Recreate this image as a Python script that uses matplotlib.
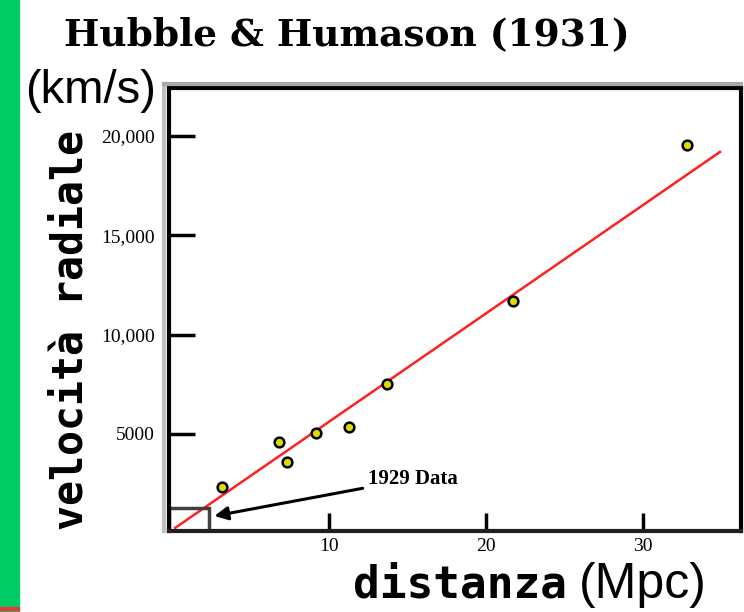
import matplotlib.pyplot as plt
from matplotlib.patches import Rectangle
from matplotlib.lines import Line2D

# galassie (distanza in Mpc, velocità in km/s)
dist = [3.2, 6.8, 7.3, 9.2, 11.3, 13.7, 21.7, 32.8]
vel = [2330, 4600, 3590, 5050, 5350, 7520, 11700, 19550]

# retta di Hubble (estremi)
fit_x = [0.2, 34.9]
fit_y = [270, 19200]

# riquadro dati 1929
box_x = 2.35
box_y = 1270

xticks = [10, 20, 30]
yticks = [5000, 10000, 15000, 20000]
ytick_labels = ['5000', '10,000', '15,000', '20,000']

W, H = 744, 612
fig = plt.figure(figsize=(W / 100, H / 100), dpi=100)

# barra verde a sinistra
fig.patches.append(Rectangle((0, 0), 19 / W, 1, transform=fig.transFigure,
                             color='#00cc66', zorder=0))
fig.patches.append(Rectangle((0, 2 / H), 19 / W, 3 / H, transform=fig.transFigure,
                             color='#e83838', zorder=1))

ax = fig.add_axes([169 / W, 1 - 531 / H, (741 - 169) / W, (531 - 88) / H])
ax.set_xlim(-0.19, 36.24)
ax.set_ylim(115, 22420)

ax.plot(fit_x, fit_y, color='#ff2020', lw=1.8, zorder=2)
ax.plot(dist, vel, 'o', ms=7, mfc='#dcdc00', mec='black', mew=1.8, zorder=3)

ax.add_patch(Rectangle((-0.19, 115), box_x + 0.19, box_y - 115, fill=False,
                       ec='#404040', lw=2.5, zorder=2))
ax.annotate('1929 Data', xy=(2.7, 870), xytext=(12.5, 2740),
            ha='left', va='center', family='Liberation Serif', fontsize=15,
            fontweight='bold',
            arrowprops=dict(arrowstyle='-|>', color='black', lw=2.2,
                            mutation_scale=20, shrinkA=2, shrinkB=0))

for s in ax.spines.values():
    s.set_linewidth(3)
    s.set_color('black')
ax.spines['bottom'].set_color('#202020')

ax.set_xticks(xticks)
ax.set_xticklabels([str(t) for t in xticks], family='Liberation Serif',
                   fontsize=14)
ax.set_yticks(yticks)
ax.set_yticklabels(ytick_labels, family='Liberation Serif', fontsize=14)
ax.tick_params(axis='x', direction='in', length=13, width=2.5, pad=5)
ax.tick_params(axis='y', direction='in', length=19, width=2.5, pad=10)

# ombre grigie dei bordi
fig.lines.append(Line2D([164 / W, 164 / W], [1 - 531 / H, 1 - 84 / H],
                        transform=fig.transFigure, color='#c0c0c0', lw=3))
fig.lines.append(Line2D([164 / W, 741 / W], [1 - 84 / H, 1 - 84 / H],
                        transform=fig.transFigure, color='#a8a8a8', lw=3))

fig.text(347 / W, 1 - 35 / H, 'Hubble & Humason (1931)', ha='center', va='center',
         family='DejaVu Serif', fontweight='bold', fontsize=27)
fig.text(25 / W, 1 - 91 / H, '(km/s)', ha='left', va='center',
         family='Liberation Sans', fontsize=34)
fig.text(83 / W, 1 - 330 / H, 'velocità radiale', rotation=90, rotation_mode='anchor',
         ha='center', va='baseline', family='DejaVu Sans Mono', fontweight='bold',
         fontsize=30)
fig.text(353 / W, 1 - 598 / H, 'distanza', ha='left', va='baseline',
         family='DejaVu Sans Mono', fontweight='bold', fontsize=32)
fig.text(579 / W, 1 - 598 / H, '(Mpc)', ha='left', va='baseline',
         family='Liberation Sans', fontsize=36)

fig.savefig('out.png', dpi=100)
